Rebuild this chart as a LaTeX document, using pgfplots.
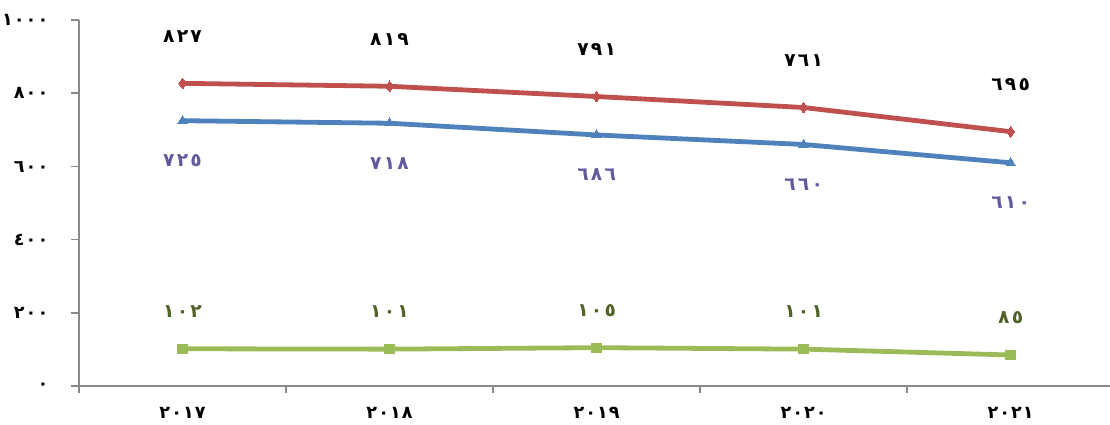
\documentclass[border=0pt]{standalone}
\usepackage{fontspec}
\usepackage{pgfplots}
\pgfplotsset{compat=1.18}
\newfontfamily\arabicfont[Script=Arabic, LetterSpace=12]{DejaVu Sans}
\newfontfamily\arabictick[Script=Arabic, LetterSpace=6]{DejaVu Sans}
\definecolor{cred}{HTML}{C0504D}
\definecolor{cblue}{HTML}{4F81BD}
\definecolor{cgreen}{HTML}{9BBB59}
\definecolor{lblue}{HTML}{5F5A9A}
\definecolor{lgreen}{HTML}{4F6228}
\definecolor{axgray}{HTML}{898989}
\begin{document}
\begin{tikzpicture}
\begin{axis}[
    scale only axis,
    width=773pt, height=274.5pt,
    xmin=-0.5, xmax=4.48,
    ymin=0, ymax=1000,
    axis x line*=bottom, axis y line*=left,
    axis line style={axgray, line width=1.5pt},
    xtick={0,1,2,3,4},
    xticklabels={٢٠١٧,٢٠١٨,٢٠١٩,٢٠٢٠,٢٠٢١},
    minor xtick={-0.5,0.5,1.5,2.5,3.5},
    major x tick style={draw=none},
    minor tick length=5pt,
    ytick={0,200,400,600,800,1000},
    yticklabels={٠,٢٠٠,٤٠٠,٦٠٠,٨٠٠,١٠٠٠},
    major tick length=6pt,
    tick align=outside,
    tick style={axgray, line width=1.2pt},
    ticklabel style={font=\arabictick\bfseries\fontsize{13.2pt}{15pt}\selectfont},
    xticklabel style={yshift=-6pt},
    yticklabel style={xshift=-13.5pt},
    clip=false,
    point meta=explicit symbolic,
    nodes near coords,
    every node near coord/.append style={font=\arabicfont\bfseries\fontsize{14pt}{16pt}\selectfont, anchor=center},
]
\addplot[color=cred, line width=3.6pt, mark=diamond*, mark size=4pt,
    mark options={line width=0pt},
    every node near coord/.append style={black, yshift=35pt}]
    coordinates {(0,827)[٨٢٧] (1,819)[٨١٩] (2,791)[٧٩١] (3,761)[٧٦١] (4,695)[٦٩٥]};
\addplot[color=cblue, line width=3.6pt, mark=triangle*, mark size=4pt,
    mark options={line width=0pt},
    every node near coord/.append style={lblue, yshift=-30pt}]
    coordinates {(0,725)[٧٢٥] (1,718)[٧١٨] (2,686)[٦٨٦] (3,660)[٦٦٠] (4,610)[٦١٠]};
\addplot[color=cgreen, line width=3.6pt, mark=square*, mark size=3.5pt,
    mark options={line width=0pt},
    every node near coord/.append style={lgreen, yshift=28pt}]
    coordinates {(0,102)[١٠٢] (1,101)[١٠١] (2,105)[١٠٥] (3,101)[١٠١] (4,85)[٨٥]};
\end{axis}
\pgfresetboundingbox
\useasboundingbox ([xshift=-59.25pt,yshift=-28.5pt]current axis.south west)
    rectangle ([yshift=15pt]current axis.north east);
\end{tikzpicture}
\end{document}
